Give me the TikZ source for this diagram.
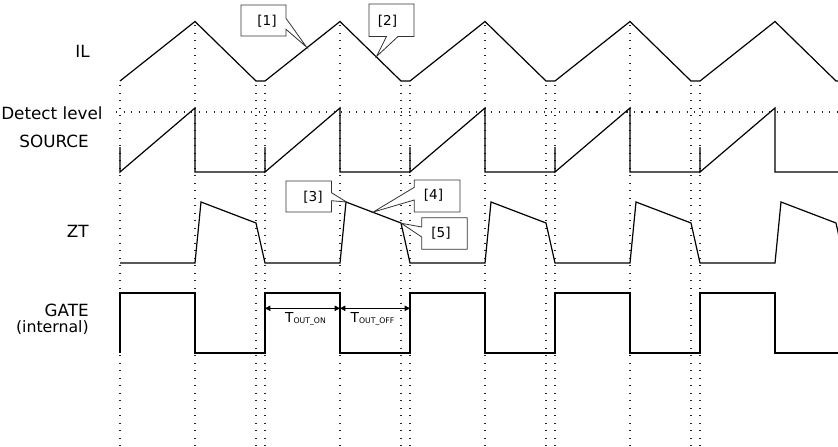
\documentclass[tikz,border=0pt]{standalone}
\usepackage{fontspec}
\setmainfont{DejaVu Sans}
\usetikzlibrary{arrows.meta}
\begin{document}
\begin{tikzpicture}[x=0.75pt,y=-0.75pt,
  wave/.style={line width=0.9pt, line join=miter},
  dotline/.style={line width=0.8pt, dash pattern=on 0.8pt off 4.83pt, black!85},
  lbl/.style={font=\fontsize{12.6}{15}\selectfont, inner sep=0pt},
  callout/.style={draw=black!80, fill=white, line width=0.6pt, line join=miter},
  num/.style={font=\fontsize{10.2}{12}\selectfont, inner sep=0pt},
  dimarrow/.style={line width=0.6pt, {Triangle[length=4pt,width=4pt]}-{Triangle[length=4pt,width=4pt]}},
  tlbl/.style={font=\fontsize{10.3}{12}\selectfont, inner sep=0pt}]
\useasboundingbox (0,0) rectangle (838,446);
\clip (0,0) rectangle (838,446);

% dotted guide lines
\foreach \x/\y in {120/85, 195/25, 256/85, 265/85, 340/25, 401/85, 410/85, 485/25, 546/85, 555/85, 630/25, 691/85, 700/85}
  \draw[dotline] (\x,\y) -- (\x,446);
\coordinate (detL) at (116,112);
\coordinate (detR) at (838,112);
\draw[dotline] (detL) -- (detR);

% labels
\node[lbl, anchor=base east] (il) at (90,57) {IL};
\node[lbl, anchor=base west] (det) at (1,119) {Detect level};
\node[lbl, anchor=base east] (src) at (89,147.5) {SOURCE};
\node[lbl, anchor=base east] (zt) at (89,237.5) {ZT};
\node[lbl, anchor=base east] (gate) at (89,316) {GATE};
\node[lbl, anchor=base east, font=\fontsize{11.8}{14}\selectfont] (intl) at (89,332.5) {(internal)};

% waveforms
\draw[wave] (120,81) foreach \k in {0,...,4} { -- ++(75,-59.5) -- ++(61,59.5) -- ++(9,0) };
\draw[wave] (120,147) foreach \k in {0,...,4} { -- ++(0,25) -- ++(75,-64) -- ++(0,64) -- ++(70,0) -- ++(0,-25) };
\draw[wave] (120,263) foreach \k in {0,...,4} { -- ++(75,0) -- ++(6,-61) -- ++(55,21) -- ++(9,40) };
\draw[wave] (120,353) foreach \k in {0,...,4} { -- ++(0,-60) -- ++(75,0) -- ++(0,60) -- ++(70,0) };

% T_OUT arrows
\coordinate (ton1) at (265,308.3);
\coordinate (ton2) at (340,308.3);
\coordinate (toff2) at (410,308.3);
\draw[dimarrow] (ton1) -- (ton2);
\draw[dimarrow] (ton2) -- (toff2);
\node[tlbl] (ton) at (305.5,318.5) {T\raisebox{-0.15ex}{\fontsize{5.8}{7}\selectfont OUT\_ON}};
\node[tlbl] (toff) at (372.5,318.5) {T\raisebox{-0.15ex}{\fontsize{5.8}{7}\selectfont OUT\_OFF}};

% callouts
\draw[callout] (241,5) -- (286,5) -- (286,18.3) -- (306.5,47) -- (286,29.3) -- (286,36) -- (241,36) -- cycle;
\node[num] (c1) at (267,21.5) {[1]};
\draw[callout] (369,4) -- (414,4) -- (414,36.5) -- (398,36.5) -- (376.5,56.5) -- (386.5,36.5) -- (369,36.5) -- cycle;
\node[num] (c2) at (387.5,21) {[2]};
\draw[callout] (286,181) -- (331.5,181) -- (331.5,192.7) -- (346.5,202) -- (331.5,200.7) -- (331.5,212) -- (286,212) -- cycle;
\node[num] (c3) at (313,197.5) {[3]};
\draw[callout] (414.3,180) -- (460,180) -- (460,212) -- (414.3,212) -- (414.3,200) -- (373.3,212) -- (414.3,187.3) -- cycle;
\node[num] (c4) at (433.5,195) {[4]};
\draw[callout] (421.7,217.7) -- (467.3,217.7) -- (467.3,249.3) -- (421.7,249.3) -- (421.7,237) -- (401.3,223.3) -- (421.7,227) -- cycle;
\node[num] (c5) at (441,233) {[5]};
\end{tikzpicture}
\end{document}
